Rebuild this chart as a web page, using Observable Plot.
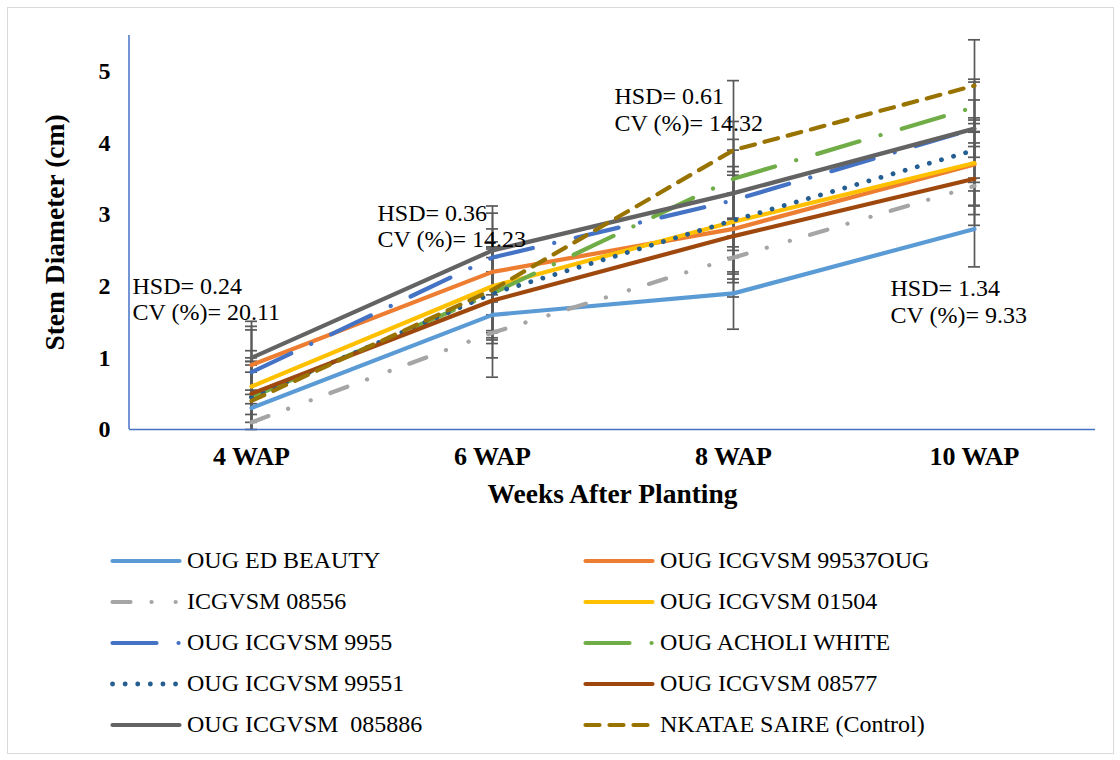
<!DOCTYPE html>
<html><head><meta charset="utf-8">
<script src="https://cdn.jsdelivr.net/npm/d3@7"></script>
<script src="https://cdn.jsdelivr.net/npm/@observablehq/plot@0.6"></script>
<style>
html,body{margin:0;padding:0;background:#fff;}
#wrap{position:relative;width:1120px;height:760px;font-family:"Liberation Serif","Tinos","Times New Roman","DejaVu Serif",serif;overflow:hidden;}
#border{position:absolute;left:7px;top:7px;width:1107px;height:747px;border:1px solid #d9d9d9;box-sizing:border-box;}
#chart{position:absolute;left:0;top:0;}
#legend{position:absolute;left:110px;top:540px;display:grid;grid-template-columns:473px 473px;grid-auto-rows:41px;}
.item{display:flex;align-items:center;font-size:24px;color:#000;white-space:pre;font-family:"Liberation Serif","Tinos","Times New Roman","DejaVu Serif",serif;}
.item svg{margin-right:5px;flex:none;}
</style></head><body>
<div id="wrap"><div id="border"></div><div id="chart"></div><div id="legend"></div></div>
<script>
// ---- data ----
const weeks = ["4 WAP", "6 WAP", "8 WAP", "10 WAP"];
const seriesNames = ["OUG ED BEAUTY", "OUG ICGVSM 99537OUG", "ICGVSM 08556", "OUG ICGVSM 01504",
  "OUG ICGVSM 9955", "OUG ACHOLI WHITE", "OUG ICGVSM 99551", "OUG ICGVSM 08577",
  "OUG ICGVSM  085886", "NKATAE SAIRE (Control)"];
const edBeauty   = [0.30, 1.60, 1.90, 2.80];
const icg99537   = [0.90, 2.20, 2.80, 3.70];
const icg08556   = [0.10, 1.35, 2.40, 3.40];
const icg01504   = [0.60, 2.00, 2.90, 3.72];
const icg9955    = [0.80, 2.40, 3.20, 4.20];
const acholi     = [0.45, 1.90, 3.50, 4.50];
const icg99551   = [0.45, 1.90, 2.92, 3.90];
const icg08577   = [0.50, 1.80, 2.70, 3.50];
const icg085886  = [1.00, 2.50, 3.30, 4.20];
const nkatae     = [0.40, 1.95, 3.90, 4.80];
// error bar half-widths
const errEdBeauty  = [0.50, 0.60, 0.50, 0.53];
const errIcg99537  = [0.54, 0.60, 0.75, 0.57];
const errIcg08556  = [0.45, 0.62, 0.55, 0.55];
const errIcg01504  = [0.50, 0.62, 0.70, 0.60];
const errIcg9955   = [0.59, 0.62, 0.70, 0.69];
const errAcholi    = [0.50, 0.62, 0.80, 0.35];
const errIcg99551  = [0.50, 0.65, 0.75, 0.45];
const errIcg08577  = [0.50, 0.60, 0.60, 0.50];
const errIcg085886 = [0.51, 0.62, 0.75, 0.40];
const errNkatae    = [0.50, 0.60, 0.97, 0.64];
// annotations
const annoWeeks = ["4 WAP", "6 WAP", "8 WAP", "10 WAP"];
const annoHSD = ["0.24", "0.36", "0.61", "1.34"];
const annoCV = ["20.11", "14.23", "14.32", "9.33"];
const annoY = [1.83, 2.85, 4.47, 1.79];
const yTicks = [0, 1, 2, 3, 4, 5];
const xTitle = "Weeks After Planting";
const yTitle = "Stem Diameter (cm)";

// ---- styles ----
const seriesValues = [edBeauty, icg99537, icg08556, icg01504, icg9955, acholi, icg99551, icg08577, icg085886, nkatae];
const seriesErrors = [errEdBeauty, errIcg99537, errIcg08556, errIcg01504, errIcg9955, errAcholi, errIcg99551, errIcg08577, errIcg085886, errNkatae];
const colors = ["#5B9BD5", "#ED7D31", "#A5A5A5", "#FFC000", "#4472C4", "#70AD47", "#255E91", "#9E480E", "#636363", "#997300"];
const dashes = [null, null, "18,21,0.1,24,0.1,21", null, "44,22,0.1,22", "44,22,0.1,22", "0.1,12.5", null, null, "14,10"];
const widths = [4.2, 4.2, 4.2, 4.2, 4.2, 4.2, 4.8, 4.2, 4.2, 4.2];

const rows = [];
const errRows = [];
const capRows = [];
seriesNames.forEach((s, si) => {
  weeks.forEach((w, wi) => {
    const v = seriesValues[si][wi], e = seriesErrors[si][wi];
    rows.push({series: s, week: w, value: v});
    errRows.push({series: s, week: w, lo: Math.max(0, v - e), hi: v + e});
    capRows.push({week: w, y: v + e});
    if (v - e >= 0) capRows.push({week: w, y: v - e});
  });
});

const font = "'Liberation Serif', Tinos, 'Times New Roman', 'DejaVu Serif', serif";
const dxs = [-119, -115, -119, -84];

const yAxisLine = (index, scales, values, dims) => {
  const l = document.createElementNS("http://www.w3.org/2000/svg", "line");
  l.setAttribute("x1", dims.marginLeft);
  l.setAttribute("x2", dims.marginLeft);
  l.setAttribute("y1", dims.marginTop);
  l.setAttribute("y2", dims.height - dims.marginBottom);
  l.setAttribute("stroke", "#4472C4");
  l.setAttribute("stroke-width", 1.5);
  return l;
};

const chart = Plot.plot({
  width: 1120,
  height: 520,
  marginLeft: 129,
  marginRight: 25,
  marginTop: 35,
  marginBottom: 91,
  style: {fontFamily: font, background: "transparent", color: "#000"},
  x: {type: "point", domain: weeks, padding: 0.5},
  y: {domain: [0, 5.5]},
  marks: [
    Plot.axisX({tickSize: 0, tickPadding: 17, fontSize: 26, fontWeight: "bold", label: null, fontFamily: font}),
    Plot.axisY({ticks: yTicks, tickFormat: d3.format("d"), tickSize: 0, tickPadding: 19, fontSize: 24, fontWeight: "bold", label: null, fontFamily: font}),
    Plot.ruleX(errRows, {x: "week", y1: "lo", y2: "hi", stroke: "#595959", strokeWidth: 1.7}),
    Plot.ruleY(capRows, {y: "y", x1: "week", x2: "week", insetLeft: -6, insetRight: -6, stroke: "#595959", strokeWidth: 1.7}),
    ...seriesNames.map((s, i) => Plot.line(rows.filter(d => d.series === s), {
      x: "week", y: "value", stroke: colors[i], strokeWidth: widths[i],
      strokeDasharray: dashes[i] || undefined, strokeLinecap: "round", strokeLinejoin: "round"
    })),
    Plot.ruleY([0], {stroke: "#4472C4", strokeWidth: 1.5}),
    yAxisLine,
    ...annoWeeks.map((w, i) => Plot.text([{week: w, y: annoY[i], t: `HSD= ${annoHSD[i]}\nCV (%)= ${annoCV[i]}`}], {
      x: "week", y: "y", text: "t", textAnchor: "start", dx: dxs[i], fontSize: 24, lineHeight: 1.12, fill: "#000", fontFamily: font
    })),
    Plot.text([xTitle], {text: d => d, frameAnchor: "bottom", textAnchor: "middle", lineAnchor: "middle", dy: 65, fontSize: 27.5, fontWeight: "bold", fill: "#000", fontFamily: font}),
    Plot.text([yTitle], {text: d => d, frameAnchor: "left", textAnchor: "middle", lineAnchor: "middle", rotate: -90, dx: -74, fontSize: 27.5, fontWeight: "bold", fill: "#000", fontFamily: font})
  ]
});
document.getElementById("chart").appendChild(chart);

// legend
const legend = document.getElementById("legend");
seriesNames.forEach((s, i) => {
  const item = document.createElement("div");
  item.className = "item";
  const svg = d3.create("svg").attr("width", 72).attr("height", 12);
  svg.append("line").attr("x1", 2.5).attr("x2", 69.5).attr("y1", 6).attr("y2", 6)
    .attr("stroke", colors[i]).attr("stroke-width", widths[i]).attr("stroke-linecap", "round")
    .attr("stroke-dasharray", dashes[i]);
  item.appendChild(svg.node());
  const span = document.createElement("span");
  span.textContent = s;
  item.appendChild(span);
  legend.appendChild(item);
});
</script>
</body></html>
